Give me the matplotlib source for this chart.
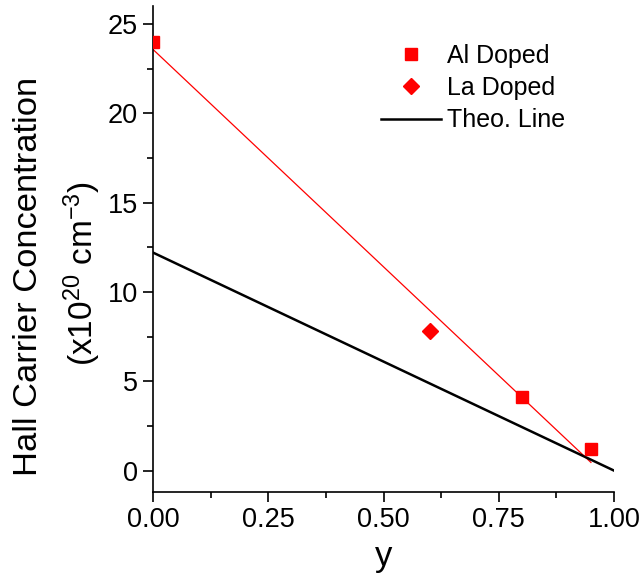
import numpy as np
import matplotlib
matplotlib.use('Agg')
import matplotlib.pyplot as plt
from matplotlib.ticker import MultipleLocator

plt.rcParams['font.family'] = ['Liberation Sans', 'DejaVu Sans']
plt.rcParams['mathtext.default'] = 'regular'

# data
al_y = [0.0, 0.8, 0.95]
al_n = [24.0, 4.1, 1.2]
la_y = [0.6]
la_n = [7.8]
theo_y = [0.0, 1.0]
theo_n = [12.2, 0.0]

# linear fit through all doped samples (red line)
fit_x = np.array(al_y + la_y)
fit_v = np.array(al_n + la_n)
slope, icpt = np.polyfit(fit_x, fit_v, 1)
fx = np.array([0.0, 0.95])

fig = plt.figure(figsize=(6.44, 5.75), dpi=100)
ax = fig.add_axes([0.2376, 0.1443, 0.7158, 0.8453])

ax.plot(fx, icpt + slope * fx, color='red', lw=0.9, zorder=2)
ax.plot(theo_y, theo_n, color='black', lw=1.8, label='Theo. Line', zorder=2)
ax.plot(al_y, al_n, 's', color='red', ms=8.5, mec='red', label='Al Doped', zorder=3)
ax.plot(la_y, la_n, 'D', color='red', ms=8, mec='red', label='La Doped', zorder=3)

ax.set_xlim(0, 1.0)
ax.set_ylim(-1.2, 26)
ax.xaxis.set_major_locator(MultipleLocator(0.25))
ax.xaxis.set_minor_locator(MultipleLocator(0.125))
ax.yaxis.set_major_locator(MultipleLocator(5))
ax.yaxis.set_minor_locator(MultipleLocator(2.5))
ax.xaxis.set_major_formatter(matplotlib.ticker.FormatStrFormatter('%.2f'))

for s in ['top', 'right']:
    ax.spines[s].set_visible(False)
for s in ['left', 'bottom']:
    ax.spines[s].set_linewidth(1.2)
ax.tick_params(which='major', direction='out', length=7, width=1.2, labelsize=19.5, pad=4)
ax.tick_params(which='minor', direction='out', length=4, width=1.2)

ax.set_xlabel('y', fontsize=25, labelpad=5)
# two-line y label, placed by hand like the original
fig.text(0.0435, 0.52, 'Hall Carrier Concentration', rotation=90, fontsize=24.8,
         ha='center', va='center')
fig.text(0.127, 0.524, '(x10$^{20}$ cm$^{-3}$)', rotation=90, fontsize=24,
         ha='center', va='center')

h, l = ax.get_legend_handles_labels()
order = [1, 2, 0]
ax.legend([h[i] for i in order], [l[i] for i in order], loc='upper left',
          bbox_to_anchor=(0.494, 0.922), frameon=False, fontsize=18,
          handlelength=2.4, handletextpad=0.25, labelspacing=0.33, borderpad=0,
          borderaxespad=0)

fig.savefig('out.png', dpi=100)
